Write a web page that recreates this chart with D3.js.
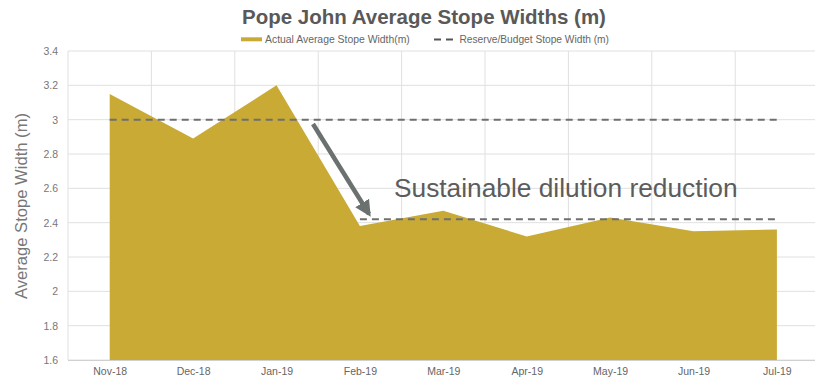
<!DOCTYPE html>
<html>
<head>
<meta charset="utf-8">
<script src="https://cdn.jsdelivr.net/npm/d3@7/dist/d3.min.js"></script>
<style>
  html, body { margin: 0; padding: 0; background: #fff; }
  svg { display: block; font-family: "Liberation Sans", Arial, sans-serif; }
</style>
</head>
<body>
<svg id="chart" width="815" height="379"></svg>
<script>
// Monthly categories and values
const months = ["Nov-18", "Dec-18", "Jan-19", "Feb-19", "Mar-19", "Apr-19", "May-19", "Jun-19", "Jul-19"];
const actualWidth = [3.15, 2.89, 3.20, 2.38, 2.47, 2.32, 2.43, 2.35, 2.36];
const budgetWidth = [3.0, 3.0, 3.0, 3.0, 3.0, 3.0, 3.0, 3.0, 3.0];
const reducedBudget = [null, null, null, 2.42, 2.42, 2.42, 2.42, 2.42, 2.42];
const yTicks = [1.6, 1.8, 2.0, 2.2, 2.4, 2.6, 2.8, 3.0, 3.2, 3.4];

const svg = d3.select("#chart");
const plotLeft = 68, plotTop = 51, plotBottom = 360, step = 83.4;
const plotRight = plotLeft + step * months.length;

const x = d3.scalePoint().domain(months).range([plotLeft + step / 2, plotRight - step / 2]);
const y = d3.scaleLinear().domain([1.6, 3.4]).range([plotBottom, plotTop]);

// Grid
svg.append("g").selectAll("line").data(yTicks).join("line")
  .attr("x1", plotLeft).attr("x2", 815)
  .attr("y1", d => y(d)).attr("y2", d => y(d))
  .attr("stroke", "#e0e0e0").attr("stroke-width", 1);
svg.append("g").selectAll("line").data(d3.range(months.length + 1)).join("line")
  .attr("x1", i => plotLeft + i * step).attr("x2", i => plotLeft + i * step)
  .attr("y1", plotTop).attr("y2", plotBottom)
  .attr("stroke", "#e0e0e0").attr("stroke-width", 1);

// Area of actual widths
const area = d3.area()
  .x((d, i) => x(months[i]))
  .y0(y(1.6))
  .y1(d => y(d));
svg.append("path").datum(actualWidth)
  .attr("d", area)
  .attr("fill", "#c8aa34");

// Bottom axis line
svg.append("line").attr("x1", plotLeft).attr("x2", 815)
  .attr("y1", plotBottom + 0.5).attr("y2", plotBottom + 0.5)
  .attr("stroke", "#d0d0d0");

// Budget dashed lines
const line = d3.line()
  .defined(d => d != null)
  .x((d, i) => x(months[i]))
  .y(d => y(d));
[budgetWidth, reducedBudget].forEach(series => {
  svg.append("path").datum(series)
    .attr("d", line)
    .attr("fill", "none")
    .attr("stroke", "#6f6f6f")
    .attr("stroke-width", 2)
    .attr("stroke-dasharray", "7,5");
});

// Y axis labels
const yAxis = d3.axisLeft(y).tickValues(yTicks).tickSize(0).tickPadding(10)
  .tickFormat(d => d3.format("~g")(d));
const ya = svg.append("g").attr("transform", `translate(${plotLeft},0)`).call(yAxis);
ya.select(".domain").remove();
ya.selectAll("text").attr("fill", "#777").attr("font-size", 10.5)
  .attr("font-family", "Liberation Sans, Arial, sans-serif");

// X axis labels
const xAxis = d3.axisBottom(x).tickSize(0).tickPadding(8);
const xa = svg.append("g").attr("transform", `translate(0,${plotBottom})`).call(xAxis);
xa.select(".domain").remove();
xa.selectAll("text").attr("fill", "#666").attr("font-size", 10.5)
  .attr("font-family", "Liberation Sans, Arial, sans-serif");

// Y axis title
svg.append("text")
  .attr("transform", "translate(27,206) rotate(-90)")
  .attr("text-anchor", "middle")
  .attr("fill", "#777").attr("font-size", 16.6)
  .text("Average Stope Width (m)");

// Title
svg.append("text")
  .attr("x", 424).attr("y", 24)
  .attr("text-anchor", "middle")
  .attr("font-weight", "bold").attr("font-size", 20.5)
  .attr("fill", "#595959")
  .text("Pope John Average Stope Widths (m)");

// Legend
svg.append("rect").attr("x", 241).attr("y", 37.3).attr("width", 21).attr("height", 4).attr("fill", "#c8aa34");
svg.append("text").attr("x", 265).attr("y", 43).attr("font-size", 10.4).attr("fill", "#666")
  .text("Actual Average Stope Width(m)");
svg.append("line").attr("x1", 434).attr("x2", 453).attr("y1", 39.5).attr("y2", 39.5)
  .attr("stroke", "#555").attr("stroke-width", 2).attr("stroke-dasharray", "7,5");
svg.append("text").attr("x", 459.5).attr("y", 43).attr("font-size", 10.2).attr("fill", "#666")
  .text("Reserve/Budget Stope Width (m)");

// Annotation arrow
const defs = svg.append("defs");
defs.append("marker").attr("id", "head")
  .attr("viewBox", "0 0 10 10").attr("refX", 8).attr("refY", 5)
  .attr("markerWidth", 3.6).attr("markerHeight", 3.6)
  .attr("orient", "auto")
  .append("path").attr("d", "M0,0 L10,5 L0,10 z").attr("fill", "#6b7170");
svg.append("line")
  .attr("x1", 313).attr("y1", 124)
  .attr("x2", 369).attr("y2", 214)
  .attr("stroke", "#6b7170").attr("stroke-width", 4.5)
  .attr("marker-end", "url(#head)");

svg.append("text")
  .attr("x", 394).attr("y", 197.3)
  .attr("font-size", 26.3).attr("fill", "#5c5c5c")
  .attr("font-family", "Liberation Sans, Arial, sans-serif")
  .text("Sustainable dilution reduction");
</script>
</body>
</html>
